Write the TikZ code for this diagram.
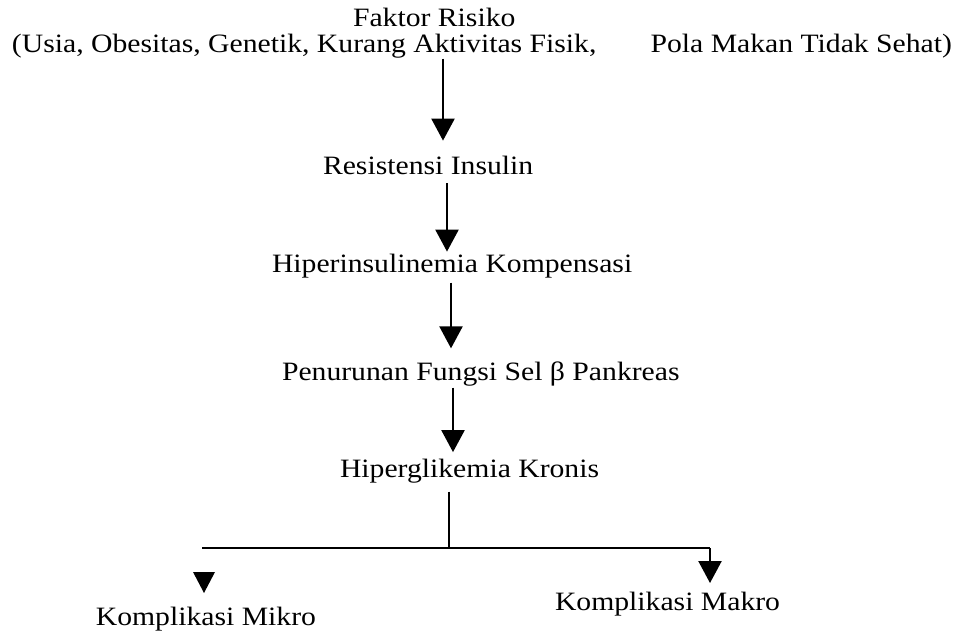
\documentclass[tikz,border=0pt]{standalone}
\usepackage{fontspec}
\setmainfont{Liberation Serif}[FakeStretch=1.12]
\usetikzlibrary{arrows.meta}
\begin{document}
\begin{tikzpicture}[x=1pt,y=1pt,
  lbl/.style={inner sep=0pt,outer sep=0pt,font=\fontsize{26.5}{32}\selectfont,anchor=base west},
  conn/.style={line width=2.3pt},
  arr/.style={conn,-{Triangle[width=23pt,length=22pt]}}]
\useasboundingbox (0,0) rectangle (960,635);
% nodes
\node[lbl] (f1) at (353,608) {Faktor Risiko};
\node[lbl] (f2a) at (12,582) {(Usia, Obesitas, Genetik, Kurang Aktivitas Fisik,};
\node[lbl,anchor=base east] (f2b) at (952,582) {Pola Makan Tidak Sehat)};
\node[lbl] (r) at (323,460) {Resistensi Insulin};
\node[lbl] (h) at (272,362) {Hiperinsulinemia Kompensasi};
\node[lbl] (p) at (282,255) {Penurunan Fungsi Sel β Pankreas};
\node[lbl] (g) at (340,158) {Hiperglikemia Kronis};
\node[lbl,anchor=base east] (mi) at (316,10) {Komplikasi Mikro};
\node[lbl] (ma) at (555,25) {Komplikasi Makro};
% x positions of the arrows
\coordinate (a1) at (443,0);
\coordinate (a2) at (447,0);
\coordinate (a3) at (451,0);
\coordinate (a4) at (453,0);
\coordinate (jn) at (449,87);
\coordinate (jl) at (202,87);
\coordinate (jr) at (710,87);
% connectors
\draw[arr,shorten >=16pt] (f2a.south -| a1) -- (r.north -| a1);
\draw[arr,shorten <=8pt,shorten >=3pt] (r.south -| a2) -- (h.north -| a2);
\draw[arr,shorten <=4pt,shorten >=13pt] (h.south -| a3) -- (p.north -| a3);
\draw[arr,shorten <=2pt,shorten >=6.5pt] (p.south -| a4) -- (g.north -| a4);
\draw[conn,shorten <=9pt] (g.south -| jn) -- (jn);
\draw[conn] (jl) -- (jr);
\draw[arr,shorten >=8.6pt] (jr) -- (ma.north -| jr);
\fill (193,63) -- (215,63) -- (204,42) -- cycle;
\end{tikzpicture}
\end{document}
